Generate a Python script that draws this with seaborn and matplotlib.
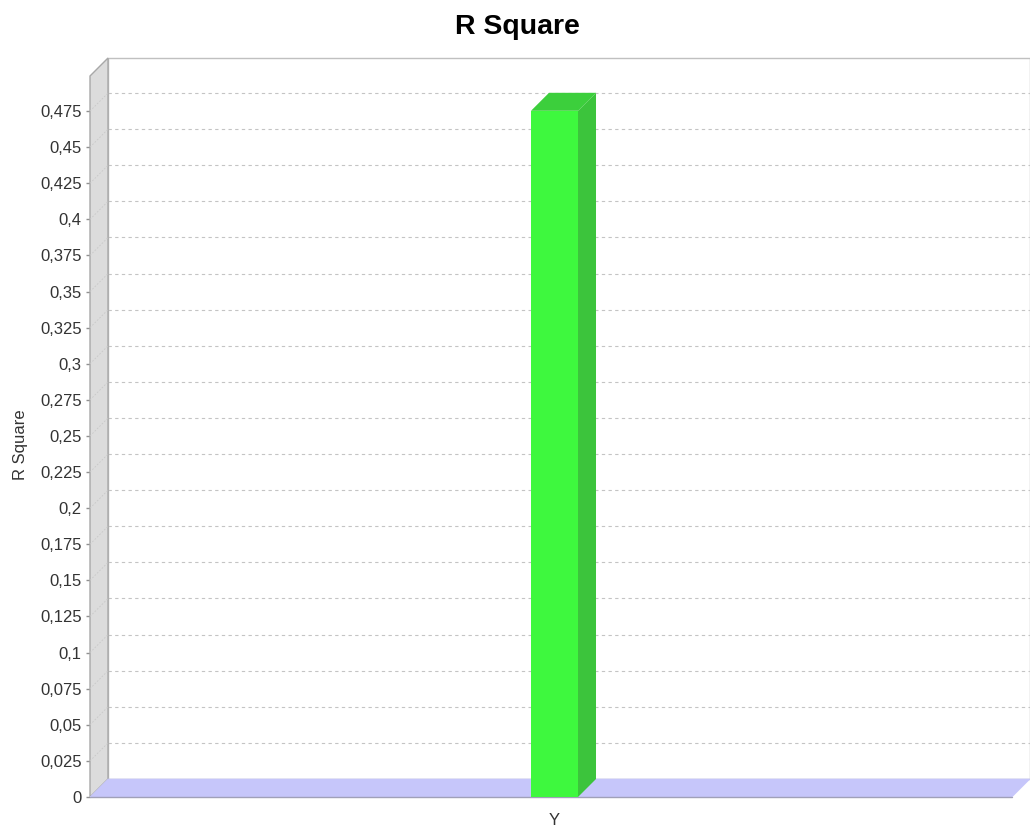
import numpy as np
import seaborn as sns
import matplotlib
matplotlib.use('Agg')
import matplotlib.pyplot as plt
from matplotlib.patches import Polygon
from matplotlib.ticker import MultipleLocator, FuncFormatter

categories = ['Y']
values = [0.4752]
y_max = 0.4993
title = 'R Square'
y_label = 'R Square'

sns.set_style('white')
plt.rcParams['font.family'] = ['Liberation Sans', 'DejaVu Sans']

W, H = 1030, 830
fig = plt.figure(figsize=(W / 100, H / 100), dpi=100)
# front plane of the 3D plot area, in pixels
left, right, top, bottom = 90, 1012, 76, 797
depth = 18
ax = fig.add_axes([left / W, 1 - bottom / H, (right - left) / W, (bottom - top) / H])

x_lo, x_hi = -0.5038, 0.4962
ax.set_xlim(x_lo, x_hi)
ax.set_ylim(0, y_max)
dx = depth / (right - left) * (x_hi - x_lo)
dy = depth / (bottom - top) * y_max

sns.barplot(x=categories, y=values, width=47 / (right - left), color='#3ef83e',
            saturation=1, ax=ax, zorder=5)
ax.set_xlim(x_lo, x_hi)
ax.set_ylim(0, y_max)

for s in ax.spines.values():
    s.set_visible(False)
ax.set_facecolor('none')

# back wall
ax.add_patch(Polygon([(x_lo + dx, dy), (x_hi + dx, dy), (x_hi + dx, y_max + dy), (x_lo + dx, y_max + dy)],
                     closed=True, facecolor='white', edgecolor='#c0c0c0', lw=1, clip_on=False, zorder=0))
# gridlines on back wall and faint ones on left wall
ticks = np.arange(0.025, 0.4751, 0.025)
for t in ticks:
    ax.plot([x_lo + dx, x_hi + dx], [t + dy, t + dy], color='#c4c4c4', lw=0.8,
            dashes=(3, 3), clip_on=False, zorder=1)
# left wall
ax.add_patch(Polygon([(x_lo, 0), (x_lo + dx, dy), (x_lo + dx, y_max + dy), (x_lo, y_max)],
                     closed=True, facecolor='#dcdcdc', edgecolor='#a8a8a8', lw=1, clip_on=False, zorder=2))
for t in ticks:
    ax.plot([x_lo, x_lo + dx], [t, t + dy], color='#c8c8c8', lw=0.6,
            dashes=(2, 2), clip_on=False, zorder=2.5)
# floor
ax.add_patch(Polygon([(x_lo, 0), (x_hi, 0), (x_hi + dx, dy), (x_lo + dx, dy)],
                     closed=True, facecolor='#c6c6fa', edgecolor='#c6c6fa', lw=0.5, clip_on=False, zorder=3))
ax.plot([x_lo, x_hi], [0, 0], color='#a0a0b8', lw=1, clip_on=False, zorder=3.5)

# 3D faces of the bar
for p in ax.patches:
    if p.get_zorder() != 5:
        continue
    x0, w, h = p.get_x(), p.get_width(), p.get_height()
    p.set_edgecolor('none')
    ax.add_patch(Polygon([(x0 + w, 0), (x0 + w + dx, dy), (x0 + w + dx, h + dy), (x0 + w, h)],
                         closed=True, facecolor='#3cc43c', edgecolor='none', clip_on=False, zorder=5))
    ax.add_patch(Polygon([(x0, h), (x0 + w, h), (x0 + w + dx, h + dy), (x0 + dx, h + dy)],
                         closed=True, facecolor='#3ccf3c', edgecolor='none', clip_on=False, zorder=5))

ax.yaxis.set_major_locator(MultipleLocator(0.025))
ax.yaxis.set_major_formatter(FuncFormatter(lambda v, pos: f"{round(v, 3):g}".replace('.', ',')))
ax.tick_params(axis='y', left=True, length=3, width=1, color='#909090', labelsize=12,
               labelcolor='#333333', pad=3)
ax.tick_params(axis='x', bottom=False, labelsize=12, labelcolor='#333333', pad=8)
ax.set_xlabel('')
ax.set_ylabel(y_label, fontsize=12, color='#333333')
ax.yaxis.set_label_coords(-0.067, 0.488)

fig.text(517 / W, 1 - 27 / H, title, ha='center', va='center', fontsize=20.5,
         fontweight='bold', color='black')

fig.savefig('out.png', dpi=100)
